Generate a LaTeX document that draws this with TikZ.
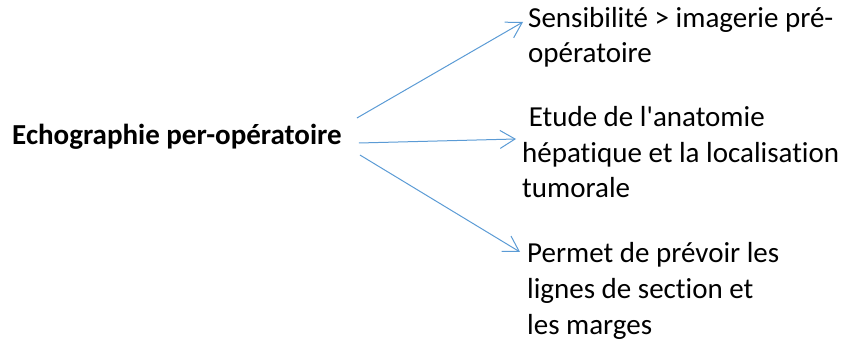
\documentclass[tikz,border=0pt]{standalone}
\usepackage{fontspec}
\setmainfont{Carlito}[Ligatures={TeX,NoCommon}]
\usepackage{tikz}
\usepackage{xcolor}
\usetikzlibrary{arrows.meta}
\definecolor{arrowblue}{RGB}{91,155,213}
\tikzset{
    item-text/.style = {inner sep=0pt, align=left, anchor=base west, font=\fontsize{29}{35.5}\selectfont},
    main-text/.style = {item-text, font=\fontsize{29}{35.5}\selectfont\bfseries},
    blue-arrow/.style = {draw=arrowblue, line width=1pt, -{Straight Barb[length=15pt, width=18pt]}},
}

\begin{document}
\begin{tikzpicture}[x=1pt, y=-1pt]
\useasboundingbox (0,0) rectangle (842,344);
\node[main-text] (echo) at (12,145) {Echographie per-opératoire};
\node[item-text] (sens) at (528,63) {Sensibilité > imagerie pré-\\opératoire};
\node[item-text] (etude) at (522,198) {\ Etude de l\textquotesingle anatomie\\hépatique et la localisation\\tumorale};
\node[item-text] (permet) at (527,334) {Permet de prévoir les\\lignes de section et\\les marges};
\draw[blue-arrow] ([shift={(15,-27)}]echo.base east) -- ([shift={(-5,-41)}]sens.base west);
\draw[blue-arrow] ([shift={(17,-2)}]echo.base east) -- ([shift={(-6,-59)}]etude.base west);
\draw[blue-arrow] ([shift={(18,10)}]echo.base east) -- ([shift={(-7,-82)}]permet.base west);
\end{tikzpicture}
\end{document}
